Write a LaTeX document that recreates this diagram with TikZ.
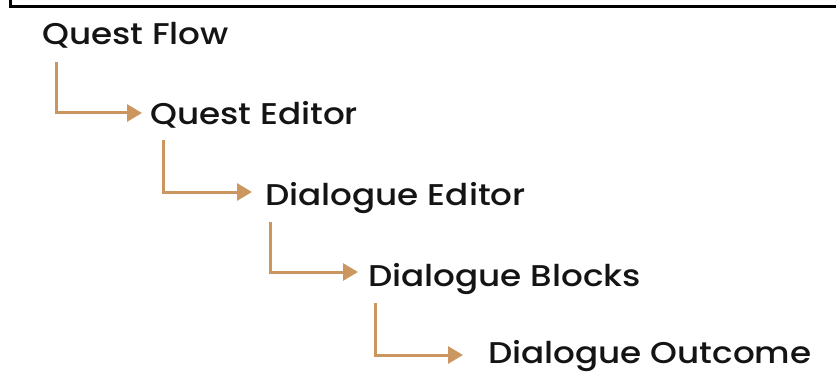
\documentclass[tikz,border=0pt]{standalone}
\usepackage{fontspec}
\setmainfont{Poppins}[UprightFont=* Medium]
\usetikzlibrary{arrows.meta}
\definecolor{tanline}{RGB}{204,150,96}
\definecolor{ink}{RGB}{20,20,20}
\begin{document}
\begin{tikzpicture}[x=1pt,y=1pt,
  lbl/.style={anchor=base west,inner sep=0pt,font=\fontsize{30}{32}\selectfont,text=ink,xscale=1.14},
  arr/.style={draw=tanline,line width=3pt,-{Triangle[length=15pt,width=17pt]}}]
\useasboundingbox (0,0) rectangle (836,381);
\draw[line width=2.8pt] (10.5,381) -- (10.5,374.5) -- (836,374.5);
\node[lbl] (qf) at (42,336) {Quest Flow};
\node[lbl] (qe) at (150,256) {Quest Editor};
\node[lbl] (de) at (265,176) {Dialogue Editor};
\node[lbl] (db) at (368,95) {Dialogue Blocks};
\node[lbl] (do) at (488,18) {Dialogue Outcome};
\draw[arr] ([shift={(14,-17)}]qf.base west) |- ([shift={(-8,12)}]qe.base west);
\draw[arr] ([shift={(13,-15)}]qe.base west) |- ([shift={(-13,13)}]de.base west);
\draw[arr] ([shift={(5,-17)}]de.base west) |- ([shift={(-10,14)}]db.base west);
\draw[arr] ([shift={(7,-17)}]db.base west) |- ([shift={(-25,8)}]do.base west);
\end{tikzpicture}
\end{document}
